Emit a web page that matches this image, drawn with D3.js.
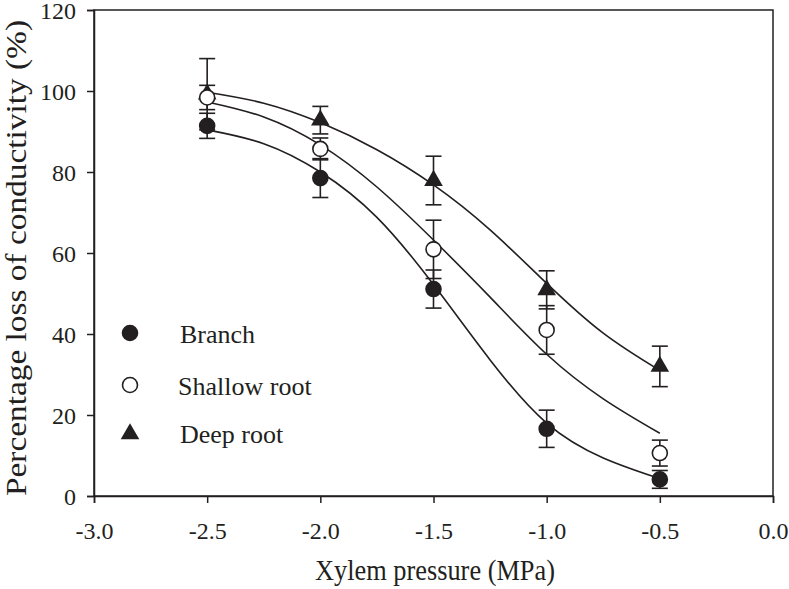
<!DOCTYPE html>
<html>
<head>
<meta charset="utf-8">
<script src="https://cdn.jsdelivr.net/npm/d3@7"></script>
<style>
  html, body { margin: 0; padding: 0; background: #fff; }
  svg { display: block; }
  text { font-family: "Liberation Serif", "Times New Roman", serif; fill: #231f20; }
</style>
</head>
<body>
<svg id="chart" width="789" height="589"></svg>
<script>
// ---- data ----
const xValues = [-2.5, -2.0, -1.5, -1.0, -0.5];
const branchMean = [91.4, 78.5, 51.1, 16.6, 4.1];
const branchErr = [3.1, 4.8, 4.7, 4.6, 2.2];
const shallowMean = [98.4, 85.7, 60.9, 41.0, 10.6];
const shallowErr = [3.0, 2.7, 7.2, 6.0, 3.2];
const deepMean = [99.2, 92.8, 77.9, 50.9, 32.0];
const deepErr = [8.8, 3.4, 6.0, 4.7, 5.0];

const fitX = [-2.5, -2.25, -2.0, -1.75, -1.5, -1.25, -1.0, -0.75, -0.5];
const branchFit = [90.4, 87.0, 80.0, 68.8, 52.2, 33.6, 18.0, 9.4, 4.3];
const shallowFit = [97.3, 93.6, 86.7, 76.3, 63.2, 49.1, 35.0, 24.0, 15.5];
const deepFit = [99.7, 97.0, 92.2, 85.5, 76.8, 65.7, 52.5, 40.2, 31.0];

const xTicks = [-3.0, -2.5, -2.0, -1.5, -1.0, -0.5, 0.0];
const yTicks = [0, 20, 40, 60, 80, 100, 120];
const seriesNames = ["Branch", "Shallow root", "Deep root"];
const xTitle = "Xylem pressure (MPa)";
const yTitle = "Percentage loss of conductivity (%)";

// ---- layout ----
const ink = "#231f20";
const plotL = 94, plotR = 773, plotT = 10, plotB = 496;
const svg = d3.select("#chart");

const x = d3.scaleLinear().domain([-3, 0]).range([plotL, plotR]);
const y = d3.scaleLinear().domain([0, 120]).range([plotB, plotT]);

// frame
svg.append("rect")
  .attr("x", plotL).attr("y", plotT)
  .attr("width", plotR - plotL).attr("height", plotB - plotT)
  .attr("fill", "none").attr("stroke", ink).attr("stroke-width", 1.5);

// axes
const xAxis = svg.append("g")
  .attr("transform", `translate(0,${plotB})`)
  .call(d3.axisBottom(x).tickValues(xTicks).tickFormat(d3.format(".1f")).tickSize(7).tickPadding(19));
const yAxis = svg.append("g")
  .attr("transform", `translate(${plotL},0)`)
  .call(d3.axisLeft(y).tickValues(yTicks).tickSize(7).tickPadding(11));
[xAxis, yAxis].forEach(g => {
  g.select(".domain").attr("stroke", ink).attr("stroke-width", 1.5);
  g.selectAll(".tick line").attr("stroke", ink).attr("stroke-width", 1.5);
  g.selectAll(".tick text")
    .attr("fill", ink)
    .style("font-family", '"Liberation Serif", "Times New Roman", serif')
    .style("font-size", "24px");
});
yAxis.selectAll(".tick text").attr("dy", "0.36em");
xAxis.selectAll(".tick text").text(d => d3.format(".1f")(d).replace("−", "-"));

// titles
svg.append("text")
  .attr("x", 435).attr("y", 580)
  .attr("text-anchor", "middle")
  .attr("textLength", 240).attr("lengthAdjust", "spacingAndGlyphs")
  .style("font-size", "29px")
  .text(xTitle);
svg.append("text")
  .attr("transform", "translate(26,258) rotate(-90)")
  .attr("text-anchor", "middle")
  .attr("textLength", 476).attr("lengthAdjust", "spacingAndGlyphs")
  .style("font-size", "29px")
  .text(yTitle);

// fitted curves
const line = d3.line()
  .x((d, i) => x(fitX[i]))
  .y(d => y(d))
  .curve(d3.curveNatural);
[deepFit, shallowFit, branchFit].forEach(arr => {
  svg.append("path")
    .attr("d", line(arr))
    .attr("fill", "none")
    .attr("stroke", ink)
    .attr("stroke-width", 1.6);
});

// series
const series = [
  { name: seriesNames[2], mean: deepMean, err: deepErr, shape: "triangle" },
  { name: seriesNames[1], mean: shallowMean, err: shallowErr, shape: "open" },
  { name: seriesNames[0], mean: branchMean, err: branchErr, shape: "filled" }
];
const capHalf = 8;
const triPath = d3.symbol().type(d3.symbolTriangle).size(150)();

function drawMarker(g, shape, cx, cy) {
  if (shape === "triangle") {
    g.append("path").attr("d", triPath)
      .attr("transform", `translate(${cx},${cy})`)
      .attr("fill", ink);
  } else {
    g.append("circle").attr("cx", cx).attr("cy", cy).attr("r", 7.5)
      .attr("fill", shape === "open" ? "#fff" : ink)
      .attr("stroke", ink).attr("stroke-width", 1.6);
  }
}

series.forEach(s => {
  const g = svg.append("g");
  xValues.forEach((xv, i) => {
    const cx = x(xv);
    const yHi = y(s.mean[i] + s.err[i]);
    const yLo = y(s.mean[i] - s.err[i]);
    g.append("line").attr("x1", cx).attr("x2", cx).attr("y1", yHi).attr("y2", yLo)
      .attr("stroke", ink).attr("stroke-width", 1.6);
    [yHi, yLo].forEach(yy => g.append("line")
      .attr("x1", cx - capHalf).attr("x2", cx + capHalf).attr("y1", yy).attr("y2", yy)
      .attr("stroke", ink).attr("stroke-width", 1.6));
  });
  xValues.forEach((xv, i) => drawMarker(g, s.shape, x(xv), y(s.mean[i])));
});

// legend
const legend = [
  { name: seriesNames[0], shape: "filled", my: 333, ty: 343, tx: 180 },
  { name: seriesNames[1], shape: "open", my: 385, ty: 395, tx: 178 },
  { name: seriesNames[2], shape: "triangle", my: 434, ty: 443, tx: 180 }
];
const lg = svg.append("g");
legend.forEach(l => {
  drawMarker(lg, l.shape, 130, l.my);
  lg.append("text").attr("x", l.tx).attr("y", l.ty)
    .style("font-size", "26px").text(l.name);
});
</script>
</body>
</html>
